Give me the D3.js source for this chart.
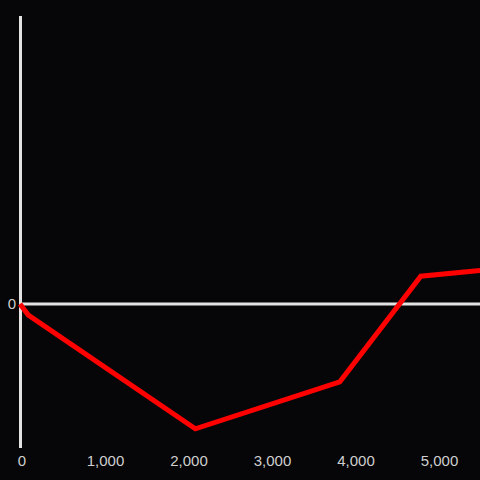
<!DOCTYPE html>
<html>
<head>
<meta charset="utf-8">
<script src="https://cdn.jsdelivr.net/npm/d3@7"></script>
<style>
  html, body { margin: 0; padding: 0; background: #060508; }
  svg { display: block; }
</style>
</head>
<body>
<svg id="chart" width="480" height="480"></svg>
<script>
// Data
const xValues = [0, 100, 2100, 3830, 4800, 5510];
const yValues = [0, -0.115, -1.30, -0.81, 0.29, 0.35];
const xTickValues = [0, 1000, 2000, 3000, 4000, 5000];
const yTickValues = [0];

const W = 480, H = 480;
const svg = d3.select("#chart");
svg.append("rect").attr("width", W).attr("height", H).attr("fill", "#060508");

const x = d3.scaleLinear().domain([0, 5000]).range([20, 20 + 83.5 * 5]);
const y = d3.scaleLinear().domain([-1.5, 3]).range([448, 16]);

const fmt = d3.format(",");

// Y axis line
svg.append("line")
  .attr("x1", 20.5).attr("x2", 20.5)
  .attr("y1", y(3)).attr("y2", y(-1.5))
  .attr("stroke", "#e2e2e2").attr("stroke-width", 3);

// Zero line
svg.append("line")
  .attr("x1", 20).attr("x2", W)
  .attr("y1", y(0)).attr("y2", y(0))
  .attr("stroke", "#e2e2e2").attr("stroke-width", 3);

// X axis labels (via d3 axis, no domain/ticks lines)
const xAxis = d3.axisBottom(x).tickValues(xTickValues).tickFormat(fmt).tickSize(0).tickPadding(0);
const gx = svg.append("g").attr("transform", "translate(1.5,455)").call(xAxis);
gx.select(".domain").remove();
gx.selectAll("text")
  .attr("fill", "#cfcfcf")
  .attr("font-family", "'Liberation Sans', Arial, sans-serif")
  .attr("font-size", "15px")
  .attr("dy", "0.71em");

// Y axis label
const yAxis = d3.axisLeft(y).tickValues(yTickValues).tickFormat(fmt).tickSize(0).tickPadding(4);
const gy = svg.append("g").attr("transform", "translate(20,0)").call(yAxis);
gy.select(".domain").remove();
gy.selectAll("text")
  .attr("fill", "#cfcfcf")
  .attr("font-family", "'Liberation Sans', Arial, sans-serif")
  .attr("font-size", "15px");

// Line
const data = xValues.map((v, i) => [v, yValues[i]]);
const line = d3.line().x(d => x(d[0])).y(d => y(d[1]));
svg.append("path")
  .datum(data)
  .attr("d", line)
  .attr("fill", "none")
  .attr("stroke", "#ff0000")
  .attr("stroke-width", 5)
  .attr("stroke-linejoin", "miter");
</script>
</body>
</html>
